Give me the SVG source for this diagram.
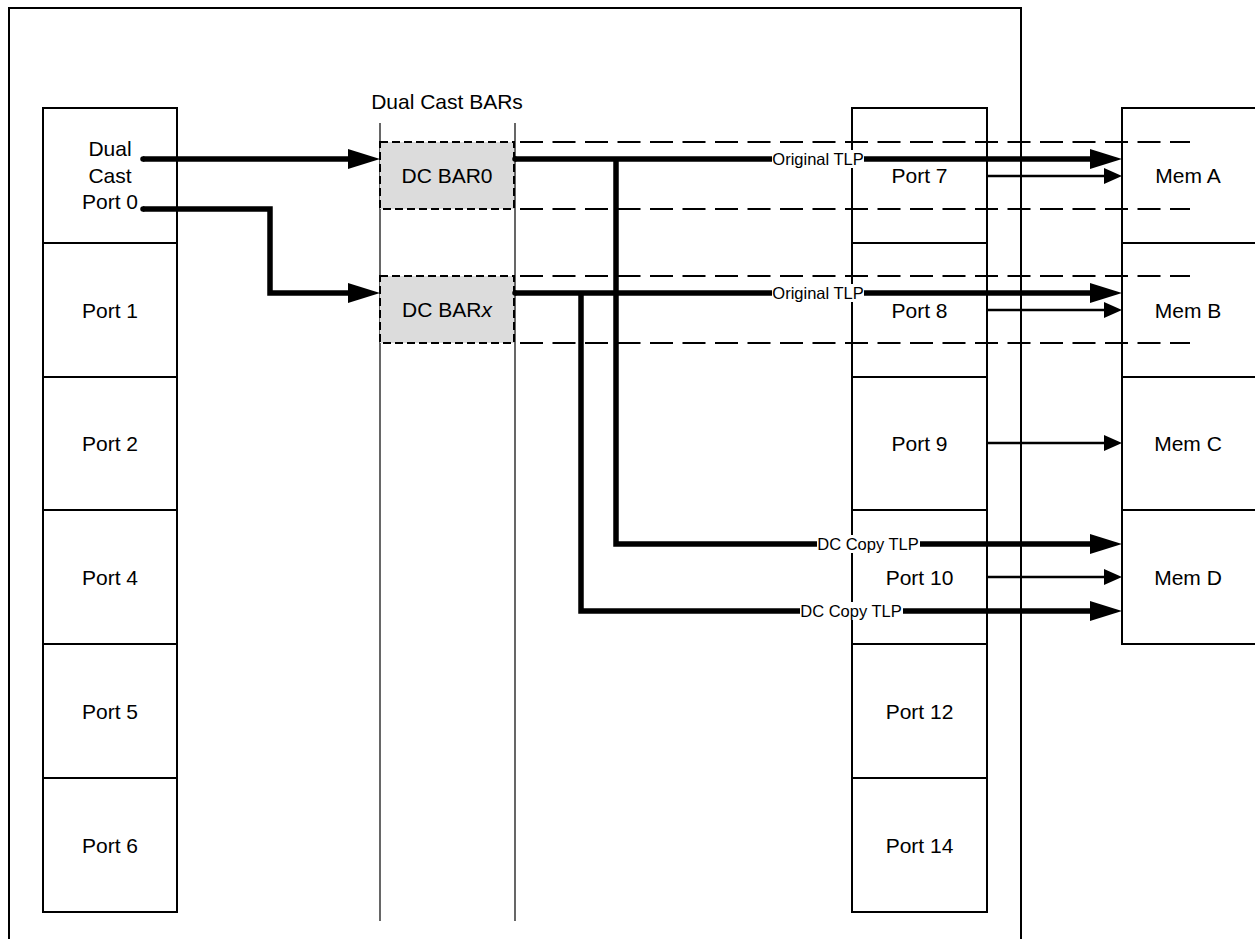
<svg xmlns="http://www.w3.org/2000/svg" width="1255" height="939" viewBox="0 0 1255 939">
<style>
  .box { fill: #ffffff; stroke: #000000; stroke-width: 2; }
  .frame { fill: none; stroke: #000000; stroke-width: 2; }
  .bar { fill: #dcdcdc; stroke: #000000; stroke-width: 2; stroke-dasharray: 8 4; }
  .vline { stroke: #000000; stroke-width: 1.2; fill: none; }
  .dash { stroke: #000000; stroke-width: 2; stroke-dasharray: 23 9.5; fill: none; }
  .thick { stroke: #000000; stroke-width: 5.5; fill: none; stroke-linejoin: miter; }
  .thin { stroke: #000000; stroke-width: 2.5; fill: none; }
  .t { font-family: "Liberation Sans", Arial, sans-serif; font-size: 21px; fill: #000000; text-anchor: middle; }
  .s { font-family: "Liberation Sans", Arial, sans-serif; font-size: 16.5px; fill: #000000; text-anchor: middle; }
  .lbg { fill: #ffffff; stroke: none; }
</style>
<defs>
  <marker id="bigArrow" markerUnits="userSpaceOnUse" markerWidth="32" markerHeight="20" refX="8" refY="10" orient="auto" overflow="visible">
    <path d="M0,0 L32,10 L0,20 Z" fill="#000000"/>
  </marker>
  <marker id="smallArrow" markerUnits="userSpaceOnUse" markerWidth="18" markerHeight="16" refX="6" refY="8" orient="auto" overflow="visible">
    <path d="M0,0 L18,8 L0,16 Z" fill="#000000"/>
  </marker>
</defs>
<rect width="1255" height="939" fill="#ffffff"/>
<path class="frame" d="M9,950 V8 H1021 V950"/>
<g id="bar-column">
  <line class="vline" x1="380" y1="123" x2="380" y2="921"/>
  <line class="vline" x1="515" y1="123" x2="515" y2="921"/>
  <text class="t" x="447" y="109">Dual Cast BARs</text>
</g>
<g id="port0"><rect class="box" x="43" y="108" width="134" height="135"/>
  <text class="t" x="110" y="156">Dual</text><text class="t" x="110" y="183">Cast</text><text class="t" x="110" y="209">Port 0</text></g>
<g id="port1"><rect class="box" x="43" y="243" width="134" height="134"/><text class="t" x="110" y="317.5">Port 1</text></g>
<g id="port2"><rect class="box" x="43" y="377" width="134" height="133"/><text class="t" x="110" y="451">Port 2</text></g>
<g id="port4"><rect class="box" x="43" y="510" width="134" height="134"/><text class="t" x="110" y="584.5">Port 4</text></g>
<g id="port5"><rect class="box" x="43" y="644" width="134" height="134"/><text class="t" x="110" y="718.5">Port 5</text></g>
<g id="port6"><rect class="box" x="43" y="778" width="134" height="134"/><text class="t" x="110" y="852.5">Port 6</text></g>
<g id="port7"><rect class="box" x="852" y="108" width="135" height="135"/><text class="t" x="919.5" y="183">Port 7</text></g>
<g id="port8"><rect class="box" x="852" y="243" width="135" height="134"/><text class="t" x="919.5" y="317.5">Port 8</text></g>
<g id="port9"><rect class="box" x="852" y="377" width="135" height="133"/><text class="t" x="919.5" y="451">Port 9</text></g>
<g id="port10"><rect class="box" x="852" y="510" width="135" height="134"/><text class="t" x="919.5" y="584.5">Port 10</text></g>
<g id="port12"><rect class="box" x="852" y="644" width="135" height="134"/><text class="t" x="919.5" y="718.5">Port 12</text></g>
<g id="port14"><rect class="box" x="852" y="778" width="135" height="134"/><text class="t" x="919.5" y="852.5">Port 14</text></g>
<g id="memA"><rect class="box" x="1122" y="108" width="136" height="135"/><text class="t" x="1188" y="183">Mem A</text></g>
<g id="memB"><rect class="box" x="1122" y="243" width="136" height="134"/><text class="t" x="1188" y="317.5">Mem B</text></g>
<g id="memC"><rect class="box" x="1122" y="377" width="136" height="133"/><text class="t" x="1188" y="451">Mem C</text></g>
<g id="memD"><rect class="box" x="1122" y="510" width="136" height="134"/><text class="t" x="1188" y="584.5">Mem D</text></g>
<g id="dcbar0"><rect class="bar" x="380" y="142" width="134" height="67"/><text class="t" x="447" y="183">DC BAR0</text></g>
<g id="dcbarx"><rect class="bar" x="380" y="276" width="134" height="67"/><text class="t" x="447" y="317">DC BAR<tspan font-style="italic">x</tspan></text></g>
<g id="bar-ranges">
  <line class="dash" x1="520" y1="142" x2="1190" y2="142"/>
  <line class="dash" x1="520" y1="209" x2="1190" y2="209"/>
  <line class="dash" x1="520" y1="276" x2="1190" y2="276"/>
  <line class="dash" x1="520" y1="343" x2="1190" y2="343"/>
</g>
<g id="connectors">
  <path class="thick" d="M143,159 H356" marker-end="url(#bigArrow)"/>
  <path class="thick" d="M143,209 H270 V293 H356" marker-end="url(#bigArrow)"/>
  <path class="thick" d="M515,159 H1098" marker-end="url(#bigArrow)"/>
  <path class="thick" d="M515,293 H1098" marker-end="url(#bigArrow)"/>
  <path class="thick" d="M616,159 V544 H1098" marker-end="url(#bigArrow)"/>
  <path class="thick" d="M581,293 V611 H1098" marker-end="url(#bigArrow)"/>
  <circle cx="143" cy="159" r="2.75"/>
  <circle cx="143" cy="209" r="2.75"/>
  <circle cx="515" cy="159" r="2.75"/>
  <circle cx="515" cy="293" r="2.75"/>
  <path class="thin" d="M987,176 H1110" marker-end="url(#smallArrow)"/>
  <path class="thin" d="M987,310 H1110" marker-end="url(#smallArrow)"/>
  <path class="thin" d="M987,443 H1110" marker-end="url(#smallArrow)"/>
  <path class="thin" d="M987,577 H1110" marker-end="url(#smallArrow)"/>
  <rect class="lbg" x="772" y="150" width="92" height="18"/>
  <text class="s" x="818" y="164.5">Original TLP</text>
  <rect class="lbg" x="772" y="284" width="92" height="18"/>
  <text class="s" x="818" y="298.5">Original TLP</text>
  <rect class="lbg" x="817" y="535" width="103" height="18"/>
  <text class="s" x="868" y="549.5">DC Copy TLP</text>
  <rect class="lbg" x="800" y="602" width="103" height="18"/>
  <text class="s" x="851" y="616.5">DC Copy TLP</text>
</g>
</svg>
